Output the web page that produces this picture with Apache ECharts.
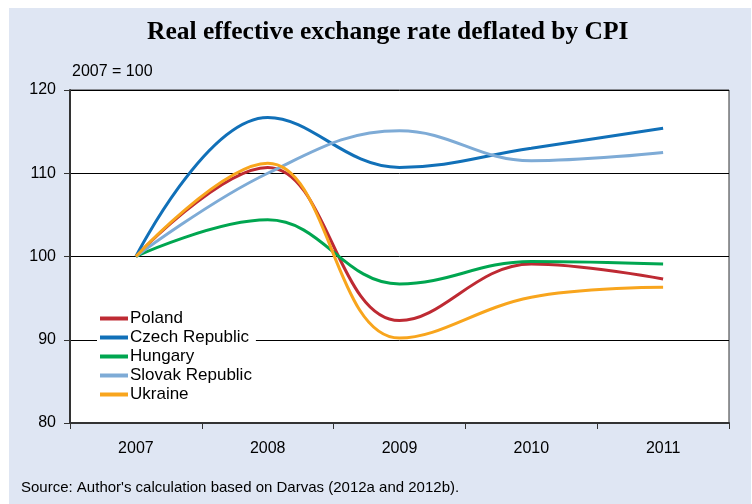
<!DOCTYPE html>
<html><head><meta charset="utf-8">
<script src="https://cdn.jsdelivr.net/npm/echarts@6/dist/echarts.min.js"></script>
<style>html,body{margin:0;padding:0;background:#fff}#c{width:752px;height:504px}</style>
</head><body><div id="c"></div>
<script>
const years = ['2007','2008','2009','2010','2011'];
const poland = [100, 110.7, 92.3, 99.1, 97.3];
const czech = [100, 116.7, 110.7, 113.0, 115.4];
const hungary = [100, 104.4, 96.7, 99.4, 99.1];
const slovak = [100, 110.0, 115.1, 111.5, 112.5];
const ukraine = [100, 111.2, 90.2, 95.1, 96.3];
const yTicks = [80, 90, 100, 110, 120];

const chart = echarts.init(document.getElementById('c'));
function s(name, data, color){
  return {name, type:'line', data, smooth:0.4, symbol:'none',
    lineStyle:{color, width:3}, itemStyle:{color}};
}
chart.setOption({
  backgroundColor:'#fff',
  animation:false,
  title:{text:'Real effective exchange rate deflated by CPI', left:142, top:14,
    textStyle:{fontFamily:'Liberation Serif', fontWeight:'bold', fontSize:25.5, color:'#000'}},
  graphic:[
    {type:'rect', z:-10, silent:true, shape:{x:9, y:8, width:742, height:496}, style:{fill:'#dfe6f3'}},
    {type:'text', left:72, top:64, style:{text:'2007 = 100', font:'16px Liberation Sans', fill:'#000'}},
    {type:'text', left:21, top:480, style:{text:"Source: Author's calculation based on Darvas (2012a and 2012b).", font:'15px Liberation Sans', fill:'#000'}}
  ],
  grid:{left:70, right:23, top:90, bottom:81, show:true, backgroundColor:'#fff', borderColor:'#333', borderWidth:1},
  legend:{orient:'vertical', left:97, top:307, backgroundColor:'#fff', padding:[2,4,2,3],
    itemGap:0, itemWidth:28, itemHeight:4, icon:'rect',
    textStyle:{fontFamily:'Liberation Sans', fontSize:17, lineHeight:19, color:'#000', padding:[0,0,0,-3]},
    data:['Poland','Czech Republic','Hungary','Slovak Republic','Ukraine']},
  xAxis:{type:'category', data:years, boundaryGap:true,
    axisLine:{lineStyle:{color:'#333', width:2}},
    axisTick:{show:true, length:6, lineStyle:{color:'#333'}},
    axisLabel:{fontFamily:'Liberation Sans', fontSize:16, color:'#000', margin:18}},
  yAxis:{type:'value', min:yTicks[0], max:yTicks[yTicks.length-1], interval:10,
    axisLine:{show:true, lineStyle:{color:'#333', width:2}},
    axisTick:{show:true, length:6, lineStyle:{color:'#333'}},
    axisLabel:{fontFamily:'Liberation Sans', fontSize:16, color:'#000', margin:14},
    splitLine:{lineStyle:{color:'#000', width:1}}},
  series:[
    s('Poland', poland, '#be2a33'),
    s('Czech Republic', czech, '#1170b8'),
    s('Hungary', hungary, '#00a650'),
    s('Slovak Republic', slovak, '#7eabd6'),
    s('Ukraine', ukraine, '#f8a51d')
  ]
});
</script></body></html>
